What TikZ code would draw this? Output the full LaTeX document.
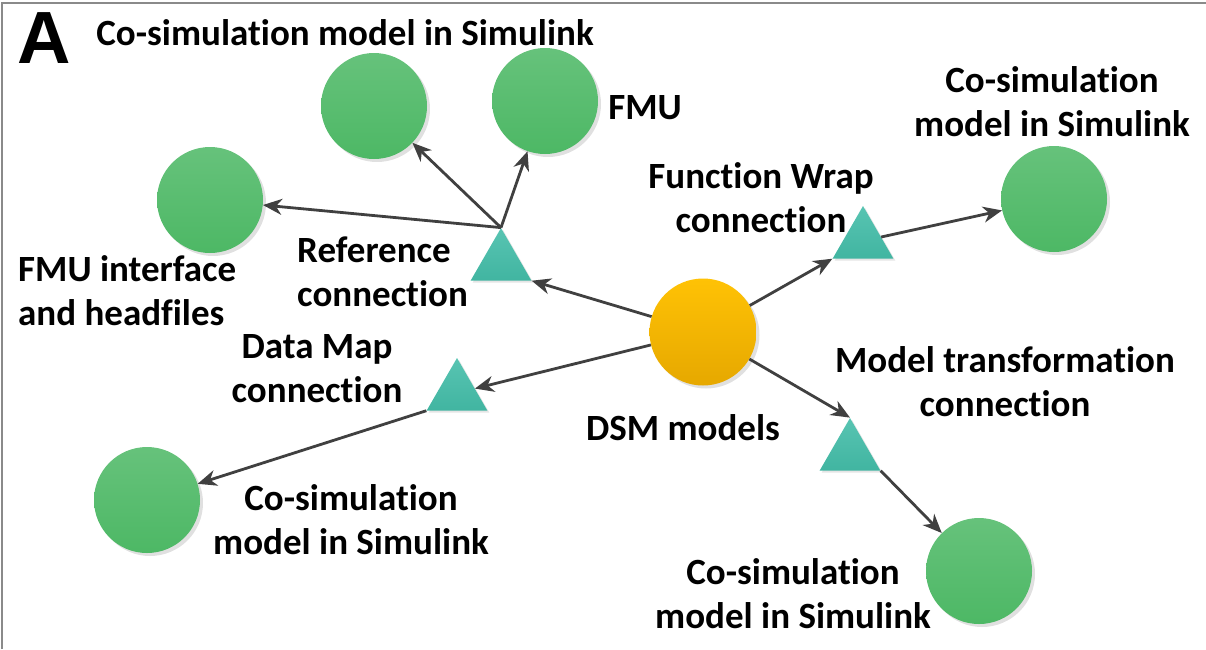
\documentclass[tikz,border=0pt]{standalone}
\usepackage{fontspec}
\setmainfont{Carlito}[Ligatures={NoCommon,NoContextual}]
\newfontfamily\bigA{Liberation Sans}
\usetikzlibrary{arrows.meta,shapes.geometric,shadows}
\definecolor{gtop}{HTML}{66C27B}
\definecolor{gbot}{HTML}{4DB865}
\definecolor{otop}{HTML}{FFC205}
\definecolor{obot}{HTML}{E6A800}
\definecolor{ttop}{HTML}{58C4B2}
\definecolor{tbot}{HTML}{41B5A1}
\definecolor{arr}{HTML}{404040}
\definecolor{frm}{HTML}{8A8A8A}
\tikzset{
  gcirc/.style={circle,inner sep=0pt,minimum size=106pt,draw=none,top color=gtop,bottom color=gbot,
    drop shadow={shadow xshift=3pt,shadow yshift=-3pt,fill=black!40,opacity=0.3}},
  ocirc/.style={circle,inner sep=0pt,minimum size=107pt,draw=none,top color=otop,bottom color=obot,
    drop shadow={shadow xshift=3pt,shadow yshift=-3pt,fill=black!40,opacity=0.3}},
  tri/.style={regular polygon,regular polygon sides=3,inner sep=0pt,minimum size=70pt,draw=none,
    top color=ttop,bottom color=tbot,
    drop shadow={shadow xshift=2pt,shadow yshift=-2pt,fill=black!40,opacity=0.25}},
  conn/.style={draw=arr,line width=2.8pt,-{Stealth[length=19pt,width=16pt,inset=6pt]}},
  lbl/.style={inner sep=0pt,font=\fontsize{37}{44}\selectfont\bfseries,align=center},
  lbll/.style={lbl,align=left,anchor=west}
}
\begin{document}
\begin{tikzpicture}[x=1pt,y=-1pt]
\useasboundingbox (0,0) rectangle (1206,649);
\draw[frm,line width=2pt] (2,649) -- (2,3) -- (1206,3);
% letter
\node[inner sep=0pt,font=\fontsize{74}{74}\selectfont\bigA\bfseries] (letA) at (44,38) {A};
% circles
\node[gcirc] (c1) at (374,106) {};
\node[gcirc] (c2) at (545,101) {};
\node[gcirc] (c3) at (210,200) {};
\node[gcirc] (c4) at (1054,199) {};
\node[gcirc] (c5) at (147,500) {};
\node[gcirc] (c6) at (979,571) {};
\node[ocirc] (dsm) at (703,332) {};
% triangles
\node[tri] (t1) at (501,263) {};
\node[tri] (t2) at (457,393) {};
\node[tri] (t3) at (863,241) {};
\node[tri] (t4) at (850,453) {};
% connectors
\draw[conn] (dsm) -- (t1.corner 3);
\draw[conn] (dsm) -- (t2);
\draw[conn] (dsm) -- (t3.corner 2);
\draw[conn] (dsm) -- (t4.corner 1);
\draw[conn] (t1.corner 1) -- (c3);
\draw[conn] (t1.corner 1) -- (c1);
\draw[conn] (t1.corner 1) -- (c2);
\draw[conn] (t3) -- (c4);
\draw[conn] (t2.corner 2) -- (c5);
\draw[conn] (t4.corner 3) -- (c6);
% labels
\node[lbl] (l1) at (345,33) {Co-simulation model in Simulink};
\node[lbl] (l2) at (645,108) {FMU};
\node[lbll] (l3) at (18,291) {FMU interface\\and headfiles};
\node[lbll] (l4) at (297,272) {Reference\\connection};
\node[lbl] (l5) at (317,369) {Data Map\\connection};
\node[lbl] (l6) at (683,428) {DSM models};
\node[lbl] (l7) at (351,520) {Co-simulation\\model in Simulink};
\node[lbl] (l8) at (761,198) {Function Wrap\\connection};
\node[lbl] (l9) at (1052,102) {Co-simulation\\model in Simulink};
\node[lbl] (l10) at (1005,382) {Model transformation\\connection};
\node[lbl] (l11) at (793,594) {Co-simulation\\model in Simulink};
\end{tikzpicture}
\end{document}
